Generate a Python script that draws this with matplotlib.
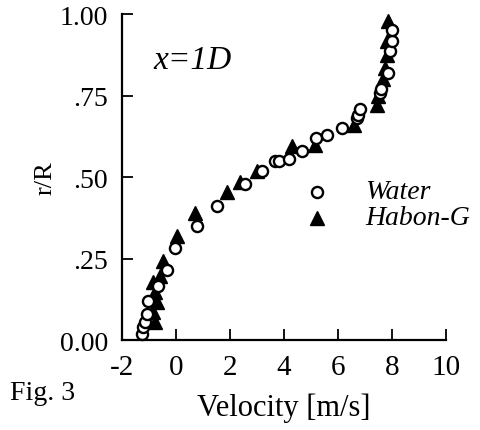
import matplotlib
matplotlib.use('Agg')
import matplotlib.pyplot as plt

plt.rcParams['font.family'] = 'Liberation Serif'
plt.rcParams['axes.unicode_minus'] = False

# Water (open circles)
water_v = [-1.26, -1.22, -1.15, -1.07, -1.04, -0.67, -0.33, -0.04, 0.78, 1.52,
           2.56, 3.19, 3.67, 3.8, 4.2, 4.67, 5.2, 5.6, 6.15, 6.7, 6.74, 6.8,
           7.55, 7.6, 7.85, 7.93, 8.0, 8.0]
water_r = [0.018, 0.04, 0.055, 0.08, 0.12, 0.166, 0.215, 0.283, 0.35, 0.41,
           0.48, 0.52, 0.55, 0.55, 0.557, 0.58, 0.62, 0.63, 0.65, 0.68, 0.69, 0.71,
           0.757, 0.77, 0.82, 0.886, 0.917, 0.95]

# Habon-G (filled triangles)
habon_v = [-0.78, -0.85, -0.7, -0.78, -0.85, -0.6, -0.48, 0.04, 0.7, 1.9,
           2.37, 3.0, 4.3, 5.15, 6.6, 7.44, 7.5, 7.67, 7.75, 7.8, 7.82, 7.85]
habon_r = [0.055, 0.086, 0.117, 0.148, 0.178, 0.197, 0.243, 0.32, 0.39, 0.455,
           0.486, 0.52, 0.594, 0.597, 0.66, 0.72, 0.75, 0.80, 0.834, 0.875, 0.917, 0.98]

xticks = [-2, 0, 2, 4, 6, 8, 10]
yticks = [0.0, 0.25, 0.5, 0.75, 1.0]
ylabels = ['0.00', '.25', '.50', '.75', '1.00']

fig = plt.figure(figsize=(4.81, 4.31), dpi=100)
ax = fig.add_axes([0.2536, 0.2088, 0.6736, 0.756])

ax.plot(habon_v, habon_r, '^', color='black', markersize=10, linestyle='none', clip_on=False)
ax.plot(water_v, water_r, 'o', mfc='white', mec='black', mew=1.7, markersize=8,
        linestyle='none', clip_on=False)

ax.set_xlim(-2, 10)
ax.set_ylim(0, 1)
ax.set_xticks(xticks)
ax.set_yticks(yticks)
ax.set_yticklabels(ylabels)
ax.tick_params(direction='in', length=8, width=1.3, labelsize=20)
ax.tick_params(axis='y', pad=10)
ax.tick_params(axis='x', pad=10, labelsize=21)
ax.spines['top'].set_visible(False)
ax.spines['right'].set_visible(False)
ax.spines['left'].set_linewidth(1.6)
ax.spines['bottom'].set_linewidth(1.6)

ax.set_xlabel('Velocity [m/s]', fontsize=22, labelpad=9)
ax.set_ylabel('r/R', fontsize=19, labelpad=2)

ax.text(-0.85, 0.86, 'x=1D', fontsize=24, style='italic', va='center')

# legend drawn by hand
ax.plot([5.22], [0.455], 'o', mfc='white', mec='black', mew=1.7, markersize=8)
ax.plot([5.22], [0.375], '^', color='black', markersize=10)
ax.text(7.0, 0.455, 'Water', fontsize=20, style='italic', va='center')
ax.text(7.0, 0.375, 'Habon-G', fontsize=20, style='italic', va='center')

fig.text(0.02, 0.072, 'Fig. 3', fontsize=20, va='baseline')

fig.savefig('out.png', dpi=100)
